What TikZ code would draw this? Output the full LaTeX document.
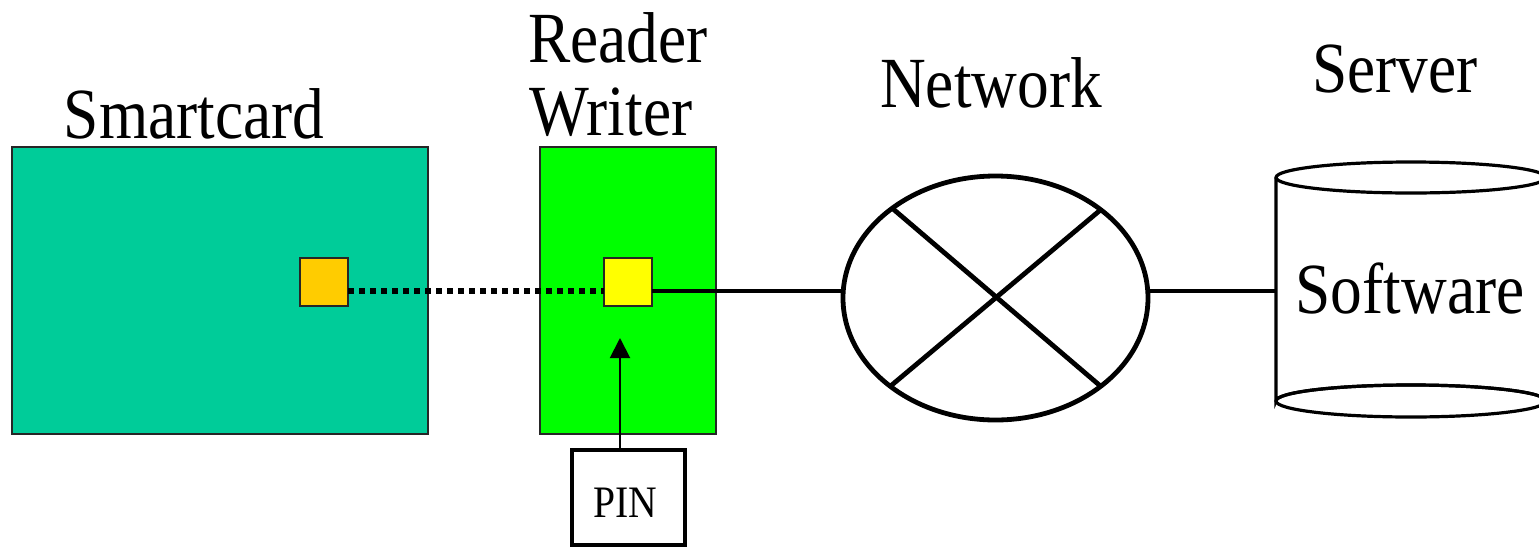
\documentclass[tikz,border=0pt]{standalone}
\usepackage{fontspec}
\setmainfont{Liberation Serif}
\newfontfamily\labelfont[FakeStretch=0.88]{Liberation Serif}
\usetikzlibrary{arrows.meta,shapes.geometric}
\definecolor{cardteal}{HTML}{00CC99}
\definecolor{readergreen}{HTML}{00FF00}
\definecolor{chiporange}{HTML}{FFCC00}
\definecolor{chipyellow}{HTML}{FFFF00}
\tikzset{
  panel/.style={draw=black!85, line width=0.7pt, inner sep=0pt, outer sep=0pt},
  chip/.style={draw=black!85, line width=1pt, minimum width=24pt, minimum height=24pt, inner sep=0pt, outer sep=0pt},
  title/.style={font=\labelfont\fontsize{36}{40}\selectfont, inner sep=0pt, anchor=base},
  link/.style={line width=2.4pt},
}
\begin{document}
\begin{tikzpicture}[x=0.5pt, y=-0.5pt]
\useasboundingbox (0,0) rectangle (1539,547);
\clip (0,0) rectangle (1539,547);

% smartcard and reader bodies
\node[panel, fill=cardteal, minimum width=208pt, minimum height=143.5pt] (card) at (220,290.5) {};
\node[panel, fill=readergreen, minimum width=88pt, minimum height=143.5pt] (reader) at (628,290.5) {};
\node[chip, fill=chiporange] (cchip) at (324,282) {};
\node[chip, fill=chipyellow] (rchip) at (628,282) {};

% network cloud with a cross
\node[draw, ellipse, line width=2.4pt, minimum width=152.5pt, minimum height=122pt, inner sep=0pt, outer sep=0pt] (net) at (995.5,298) {};
\draw[line width=2.4pt] (net.139.6) -- (net.-40.4);
\draw[line width=2.4pt] (net.40.4) -- (net.220.4);

% server database cylinder
\coordinate (srv) at (1276,291);
\draw[line width=1.6pt, fill=white] (1276,177.5) -- (1276,401) arc[start angle=180, end angle=360, x radius=135, y radius=16] -- (1546,177.5);
\draw[line width=1.6pt] (1411,401) ellipse[x radius=135, y radius=16];
\draw[line width=1.6pt, fill=white] (1411,177.5) ellipse[x radius=135, y radius=15.5];

% PIN pad
\node[draw, line width=1.6pt, minimum width=56.5pt, minimum height=47.5pt, inner sep=0pt, outer sep=0pt] (pin) at (628.5,497.5) {};
\node[font=\labelfont\fontsize{22.5}{26}\selectfont, inner sep=0pt, anchor=base] (pintext) at (625,517) {PIN};
\coordinate (pinin) at (620,338);

% connectors
\draw[line width=2.6pt, dash pattern=on 3pt off 2.5pt] ([yshift=-4.5pt]cchip.east) -- ([yshift=-4.5pt]rchip.west);
\draw[link] ([yshift=-4.5pt]rchip.east) -- (net.west |- srv);
\draw[line width=1.6pt] (net.east |- srv) -- (srv);
\draw[line width=1pt, -{Triangle[width=10pt,length=10pt]}] (pin.north -| pinin) -- (pinin);

% labels
\node[title] (lcard) at (194,138) {Smartcard};
\node[title] (lreader) at (618,62) {Reader};
\node[title] (lwriter) at (611,135) {Writer};
\node[title] (lnet) at (991,107) {Network};
\node[title] (lserver) at (1395,92) {Server};
\node[title] (lsoft) at (1410,313) {Software};
\end{tikzpicture}
\end{document}
